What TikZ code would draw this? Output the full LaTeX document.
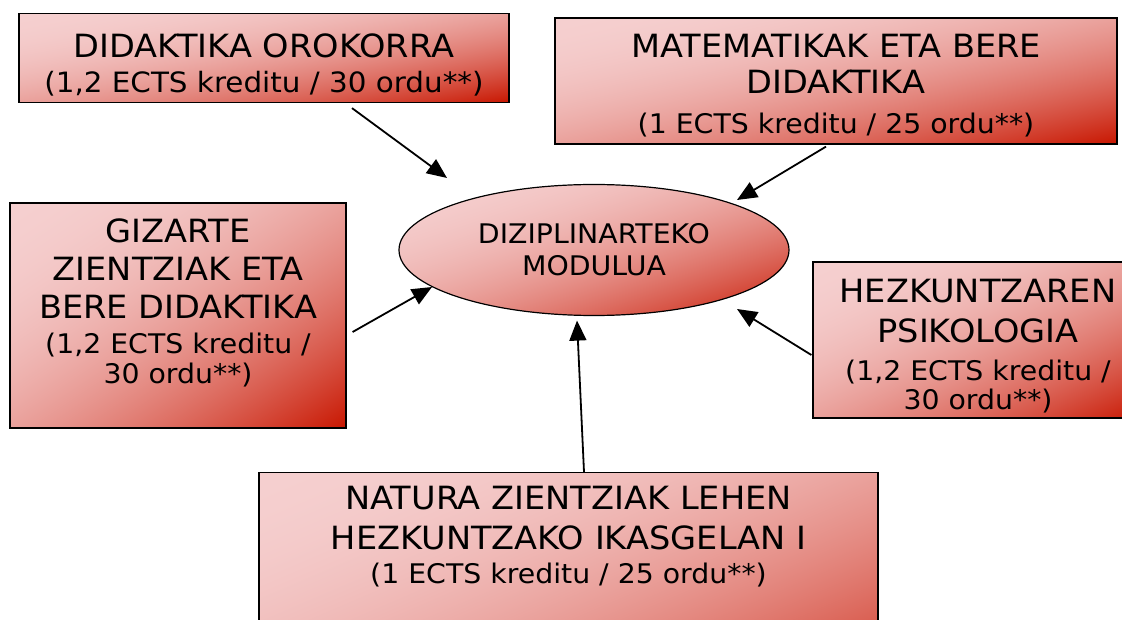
\documentclass[tikz,border=0pt]{standalone}
\usepackage{fontspec}
\setmainfont{DejaVu Sans}[FakeStretch=1.05]
\usetikzlibrary{positioning,shapes,arrows.meta,calc}

% pale pink (top left) to deep red (bottom right), stretched to the shape
\pgfdeclarefunctionalshading{redfade}{\pgfpointorigin}{\pgfpoint{100bp}{100bp}}{}{
  sub 50 add 100 div dup mul
  dup 45 mul 245 exch sub 255 div exch
  dup 185 mul 207 exch sub 255 div exch
  207 mul 207 exch sub 255 div
}

\newcommand{\subline}{\fontsize{27}{34}\selectfont}

\begin{document}
\begin{tikzpicture}[
  x=1pt, y=-1pt,
  every node/.style={align=center, font=\fontsize{32}{38}\selectfont, inner sep=0pt},
  modbox/.style={shape=rectangle, draw, line width=1.2pt, shade, shading=redfade},
  modell/.style={shape=ellipse, draw, line width=1.2pt, shade, shading=redfade, font=\fontsize{27}{32}\selectfont},
  feed/.style={-{Triangle[length=20pt,width=17pt]}, line width=1.8pt}
]
  \useasboundingbox (0,0) rectangle (1122,620);
  \clip (0,0) rectangle (1122,620);

  % Centre
  \node (modu) [modell, minimum width=390pt, minimum height=131pt] at (594,250) {DIZIPLINARTEKO\\MODULUA};

  % Subjects (zero-width rules only push the text up or down in its box)
  \node (dida) [modbox, minimum width=490pt, minimum height=89pt] at (264,58)
    {\rule{0pt}{38pt}DIDAKTIKA OROKORRA\\[-3pt]\fontsize{28}{34}\selectfont (1,2 ECTS kreditu / 30 ordu**)};
  \node (mate) [modbox, minimum width=562pt, minimum height=126pt] at (836,81)
    {\rule{0pt}{32pt}MATEMATIKAK ETA BERE\\[-2pt]DIDAKTIKA\\[2pt]\subline (1 ECTS kreditu / 25 ordu**)};
  \node (giza) [modbox, minimum width=336pt, minimum height=225pt] at (178,315.5)
    {GIZARTE\\ZIENTZIAK ETA\\BERE DIDAKTIKA\\[-3pt]\subline (1,2 ECTS kreditu /\\[-8pt]\subline 30 ordu**)\rule[-28pt]{0pt}{0pt}};
  \node (hezk) [modbox, minimum width=330pt, minimum height=156pt] at (978,340)
    {\rule{0pt}{35pt}HEZKUNTZAREN\\[2pt]PSIKOLOGIA\\\subline (1,2 ECTS kreditu /\\[-9pt]\subline 30 ordu**)};
  \node (natu) [modbox, minimum width=619pt, anchor=north, inner ysep=14pt, text depth=140pt] at (568.5,472)
    {NATURA ZIENTZIAK LEHEN\\[2pt]HEZKUNTZAKO IKASGELAN I\\[-4pt]\subline (1 ECTS kreditu / 25 ordu**)};

  % Links
  \draw[feed] ($(dida.south)+(88,5)$) -- ($(modu)+(-147,-72)$);
  \draw[feed] ($(mate.south)+(-10,2)$) -- ($(modu)+(143,-50)$);
  \draw[feed] ($(giza.east)+(6,16.5)$) -- ($(modu)+(-162,37)$);
  \draw[feed] ($(hezk.west)+(-1,15)$) -- ($(modu)+(143,59)$);
  \draw[feed] ($(natu.north)+(15.5,0)$) -- ($(modu.south)+(-17,4.5)$);
\end{tikzpicture}
\end{document}
